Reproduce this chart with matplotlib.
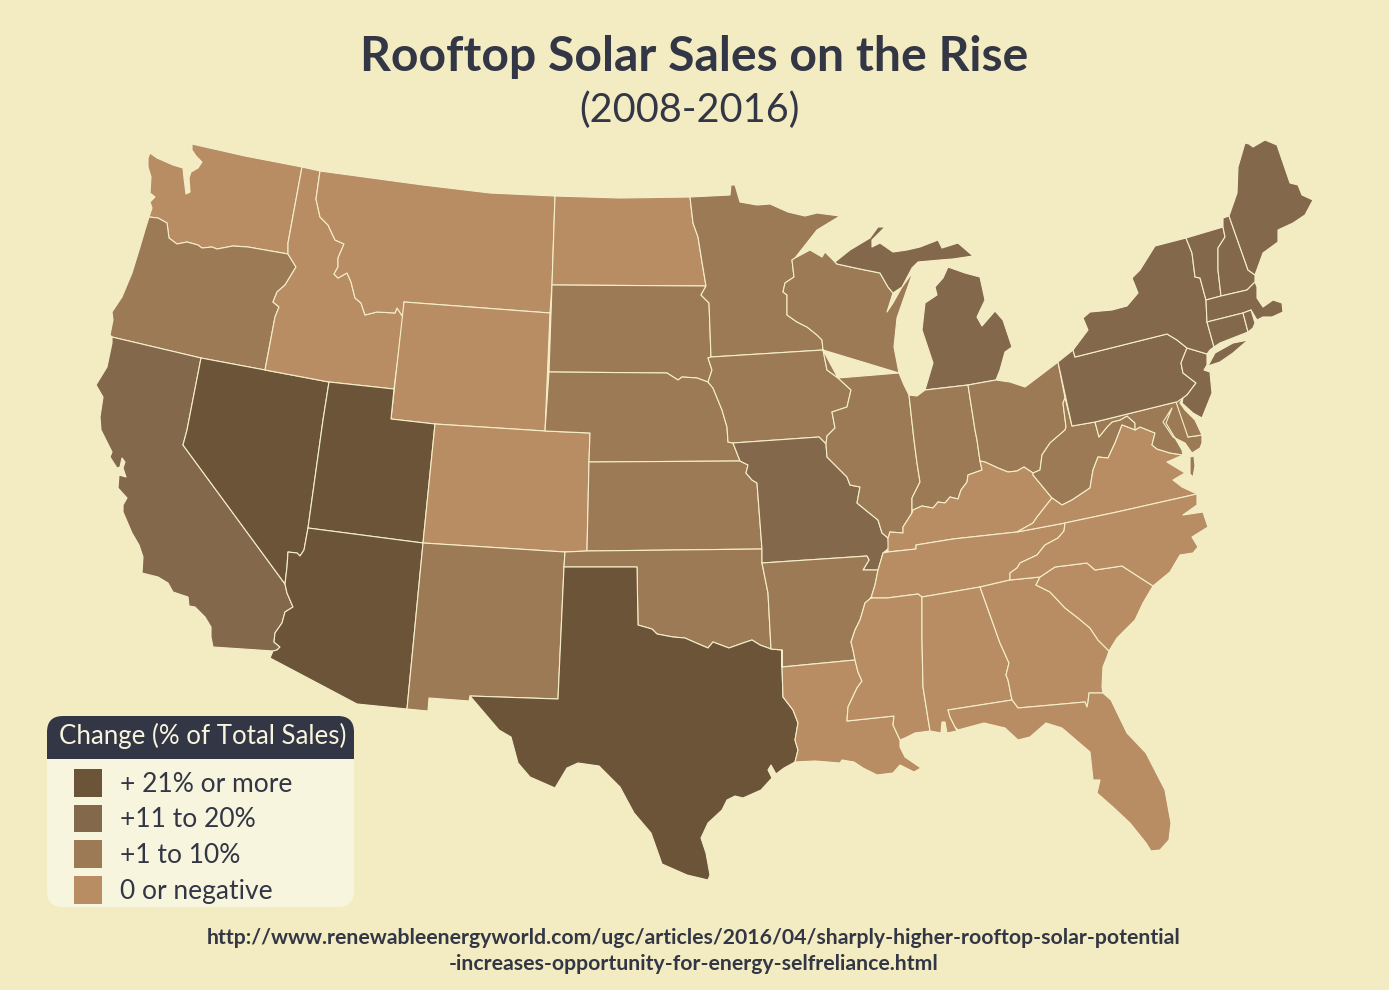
import matplotlib
matplotlib.use("Agg")
from matplotlib import pyplot as plt
from matplotlib.patches import FancyBboxPatch, Rectangle

plt.rcParams['font.family'] = ['Lato', 'DejaVu Sans']

# text and legend
title = "Rooftop Solar Sales on the Rise"
subtitle = "(2008-2016)"
source_lines = ["http://www.renewableenergyworld.com/ugc/articles/2016/04/sharply-higher-rooftop-solar-potential",
                "-increases-opportunity-for-energy-selfreliance.html"]
legend_title = "Change (% of Total Sales)"
legend_labels = ["+ 21% or more", "+11 to 20%", "+1 to 10%", "0 or negative"]
class_colors = ["#6B5438", "#83684B", "#9C7A56", "#B88D63"]

# which class every state falls in, index into legend_labels
state_class = {
    "NV": 0, "UT": 0, "AZ": 0, "TX": 0,
    "CA": 1, "MO": 1, "MI": 1, "MI_lower": 1, "PA": 1, "NY": 1, "LI": 1, "NJ": 1, "CT": 1, "RI": 1,
    "MA": 1, "VT": 1, "NH": 1, "ME": 1,
    "OR": 2, "SD": 2, "NE": 2, "KS": 2, "OK": 2, "NM": 2, "MN": 2, "IA": 2, "AR": 2, "WI": 2,
    "IL": 2, "IN": 2, "OH": 2, "WV": 2, "MD": 2, "DE": 2, "VA_shore": 2,
    "WA": 3, "ID": 3, "MT": 3, "WY": 3, "ND": 3, "CO": 3, "LA": 3, "MS": 3, "AL": 3, "GA": 3,
    "FL": 3, "SC": 3, "NC": 3, "TN": 3, "KY": 3, "VA": 3,
}

# shared borders in map units (y grows downward)
wa_or = [(149,217),(158,218),(167,223),(169,238),(177,244),(187,242),(198,245),(202,248),(212,247),(217,249),(233,246),(248,247),(288,254)]
or_id = [(288,254),(296,267),(285,285),(277,292),(273,302),(279,307),(275,317),(265,370)]
id_mt = [(320,171),(316,199),(320,217),(328,225),(335,240),(344,244),(338,258),(338,267),(334,274),(338,278),(347,273),(351,282),(355,298),(361,303),(365,315),(377,312),(395,313),(397,308),(403,317)]
ca_nv = [(201,358),(187,430),(183,445),(285,584)]
ca_az = [(285,584),(287,593),(293,607),(285,612),(282,623),(275,633),(274,642),(280,647),(277,650),(273,651)]
nv_az = [(304,550),(300,556),(297,553),(288,552),(287,567),(285,584)]
red_river = [(771,649),(760,645),(752,640),(743,643),(729,648),(713,642),(708,648),(694,642),(685,638),(673,637),(657,634),(652,629),(638,625),(637,567)]
tx_east = [(782,650),(782,667),(783,697),(793,710),(798,723),(795,740),(798,750),(795,762)]
nd_mn = [(690,197),(693,223),(698,237),(702,262),(706,286)]
sd_mn = [(706,286),(701,295),(709,303),(711,357)]
sd_ia = [(711,357),(708,358),(712,370),(708,382)]
sd_ne = [(708,382),(697,378),(682,377),(678,380),(667,373),(549,372)]
ne_ia = [(708,382),(713,388),(722,410),(727,427),(728,442),(733,443)]
ks_mo = [(740,461),(748,465),(746,473),(752,480),(757,483),(762,549)]
ok_ar = [(762,563),(768,593),(771,649)]
mn_wi = [(795,258),(792,260),(794,277),(785,283),(783,292),(787,295),(787,315),(797,322),(807,327),(817,335),(822,340),(823,350)]
ia_il = [(826,444),(827,436),(835,428),(832,412),(847,407),(851,390),(838,378)]
ia_wi = [(838,378),(827,370),(823,350)]
wi_mi = [(835,262),(837,264),(860,269),(880,273),(888,287),(893,293)]
il_mo = [(826,444),(827,457),(847,477),(850,485),(860,487),(857,503),(868,512),(878,520),(882,533),(888,538)]
il_ky = [(888,538),(890,532),(903,533),(903,527),(912,513)]
il_in = [(909,395),(914,440),(917,463),(920,482),(912,498),(912,513)]
in_oh = [(968,385),(975,430),(977,440),(980,461)]
in_ky = [(980,461),(982,470),(968,475),(967,482),(961,490),(958,499),(950,497),(945,503),(938,502),(933,508),(922,506),(913,510),(912,513)]
oh_ky = [(1033,473),(1024,467),(1017,471),(1008,472),(998,468),(985,462),(980,461)]
oh_wv = [(1065,398),(1063,403),(1066,427),(1065,430),(1050,443),(1042,455),(1040,470),(1033,473)]
ky_tn = [(888,552),(916,549),(916,545),(953,539),(1017,532)]
ky_va = [(1017,532),(1033,523),(1037,517),(1052,498)]
ky_wv = [(1052,498),(1033,475),(1033,473)]
tn_va = [(1017,532),(1065,523)]
tn_nc = [(1065,523),(1064,531),(1058,538),(1045,545),(1037,555),(1020,563),(1017,568),(1010,573),(1010,580)]
va_nc = [(1065,523),(1117,512),(1197,494)]
va_wv = [(1052,498),(1062,505),(1072,500),(1090,488),(1093,470),(1098,457),(1108,458),(1115,443),(1122,425),(1135,430)]
va_md = [(1135,430),(1140,427),(1155,433),(1152,445),(1157,449),(1170,453),(1183,455)]
wv_md = [(1135,430),(1135,423),(1127,416),(1120,420),(1112,422),(1107,427),(1099,437),(1095,422)]
pa_south = [(1176,402),(1095,422),(1072,426)]
pa_nj = [(1187,348),(1181,363),(1183,373),(1196,383),(1187,395),(1177,402)]
pa_ny = [(1058,362),(1073,350),(1075,357),(1167,334),(1177,340),(1187,348)]
ny_vt = [(1186,238),(1192,253),(1195,277),(1200,278),(1206,300)]
vt_nh = [(1223,227),(1225,237),(1218,248),(1218,270),(1221,296)]
ny_ma_ct = [(1206,300),(1207,322),(1214,347)]
ar_ms = [(871,598),(872,597),(865,603),(863,610),(860,620),(855,630),(851,642),(853,650),(855,660)]
ms_la = [(855,660),(858,672),(862,681),(857,688),(848,707),(847,721),(894,716),(893,725),(900,740)]
ms_al = [(922,597),(922,640),(923,687),(930,731)]
al_ga = [(980,587),(1000,643),(1009,663),(1006,675),(1008,680),(1012,700)]
ga_sc = [(1040,577),(1036,585),(1050,592),(1065,608),(1078,618),(1090,628),(1098,640),(1109,651)]
nc_sc = [(1040,577),(1055,567),(1087,563),(1095,570),(1122,566),(1153,586)]
ga_fl = [(1012,700),(1018,708),(1085,702),(1087,707),(1088,702),(1089,693),(1103,693)]


def ring(*parts):
    points = []
    for part in parts:
        points += part
    return points


# state outlines
outlines = {
    "WA": ring([(150,153),(157,158),(173,165),(183,168),(184,178),(186,194),(190,192),(189,178),(191,172),(198,168),(202,162),(196,156),(192,150),(192,144),(245,156),(302,167),(288,243)],
               wa_or[::-1], [(149,217),(152,208),(150,202),(155,197),(150,193),(151,177),(148,167),(148,158)]),
    "OR": ring(wa_or, or_id, [(201,358),(112,337),(110,335),(113,320),(112,312),(122,297),(132,273),(140,247),(145,230)]),
    "CA": ring([(112,337)], ca_nv, ca_az, [(213,647),(211,637),(211,627),(205,617),(195,607),(189,606),(188,597),(173,592),(168,583),(158,577),(142,573),(143,557),(139,545),(132,533),(123,512),(123,505),(127,498),(118,488),(119,475),(126,477),(123,468),(125,462),(122,458),(120,467),(117,468),(110,457),(112,452),(101,430),(100,417),(103,397),(96,385),(107,367),(112,343)]),
    "NV": ring([(201,358),(265,370),(329,382),(323,420),(308,528)], nv_az, ca_nv[::-1]),
    "ID": ring([(302,167)], id_mt, [(394,389),(329,382)], or_id[::-1], [(288,243)]),
    "MT": ring([(320,171),(423,185),(490,193),(555,196),(552,285),(550,313),(404,302)], id_mt[::-1]),
    "WY": [(404,302),(550,313),(545,431),(435,424),(391,419)],
    "UT": [(329,382),(394,389),(391,419),(435,424),(423,543),(308,528),(323,420)],
    "CO": [(435,424),(545,431),(590,433),(589,462),(587,551),(565,552),(423,543)],
    "AZ": ring([(308,528),(423,543),(407,709),(357,704),(270,658)], ca_az[::-1], nv_az[::-1]),
    "NM": [(423,543),(565,552),(564,567),(558,699),(470,696),(469,701),(429,698),(428,711),(407,709)],
    "ND": ring([(555,196),(620,198)], nd_mn, [(552,285)]),
    "SD": ring([(552,285)], sd_mn, sd_ia, sd_ne),
    "NE": ring(sd_ne[::-1], ne_ia, [(740,461),(589,462),(590,433),(545,431)]),
    "KS": ring([(589,462)], ks_mo, [(587,551)]),
    "OK": ring([(587,551),(762,549)], ok_ar, red_river, [(564,567),(565,552)]),
    "TX": ring([(564,567)], red_river[::-1], tx_east, [(784,768),(776,774),(771,765),(768,770),(772,778),(761,790),(743,798),(735,796),(727,800),(722,810),(708,823),(701,838),(706,853),(710,875),(708,880),(687,875),(662,864),(651,833),(634,813),(620,787),(599,766),(578,763),(567,768),(555,788),(530,777),(518,763),(511,737),(499,730),(470,696),(558,699)]),
    "MN": ring([(730,195),(731,185),(735,185),(740,202),(757,205),(770,204),(788,212),(805,216),(817,213),(840,216),(817,230)], mn_wi, [(711,357)], sd_mn[::-1], nd_mn[::-1]),
    "IA": ring(sd_ia, ne_ia, [(819,437)], ia_il, ia_wi),
    "MO": ring([(733,443),(819,437)], il_mo, [(889,548),(883,553),(881,560),(878,570),(863,570),(869,560),(867,556),(762,563),(762,549)], ks_mo[::-1]),
    "AR": ring([(762,563),(867,556),(869,560),(863,570),(878,570),(875,585)], ar_ms, [(782,667),(782,650)], ok_ar[::-1]),
    "LA": ring([(782,667)], ms_la, [(900,747),(905,757),(921,768),(914,772),(900,765),(893,773),(877,775),(863,768),(854,762),(842,760),(840,763),(815,761)], tx_east[::-1]),
    "WI": ring(mn_wi[::-1], [(810,250),(822,257),(825,252)], wi_mi, [(887,312),(893,303),(902,287),(913,272),(905,295),(897,318),(894,347),(899,373)], ia_wi[::-1]),
    "MI": ring(wi_mi, [(902,287),(912,268),(918,262),(940,260),(953,259),(973,256),(958,243),(942,248),(938,240),(920,247),(907,250),(893,252),(880,243),(872,247),(872,240),(885,227),(878,227),(870,238),(850,250)]),
    "MI_lower": [(948,267),(965,273),(980,277),(985,300),(977,317),(982,326),(995,311),(1003,320),(1012,347),(1005,352),(1000,370),(996,380),(968,385),(925,390),(933,363),(922,330),(925,303),(937,295),(935,287),(943,278)],
    "IL": ring([(838,378),(899,373),(904,385)], il_in, il_ky[::-1], il_mo[::-1], ia_il),
    "IN": ring([(909,395),(917,396),(925,390)], in_oh, in_ky, il_in[::-1]),
    "OH": ring([(968,385),(996,380),(1010,382),(1025,387),(1037,378),(1058,362)], oh_wv, oh_ky, in_oh[::-1]),
    "KY": ring(in_ky[::-1], oh_ky[::-1], ky_wv[::-1], ky_va[::-1], ky_tn[::-1], [(888,538)], il_ky),
    "TN": ring([(871,598),(875,585),(878,570),(881,560),(883,553)], ky_tn, tn_va, tn_nc, [(980,587),(922,597),(918,594),(887,598)]),
    "WV": ring([(1065,398),(1072,426)], pa_south[::-1][1:2], wv_md[::-1], va_wv[::-1], ky_wv, oh_wv[::-1]),
    "VA": ring(ky_va, va_wv, va_md, [(1167,462),(1185,473),(1173,480),(1182,487)], va_nc[::-1], tn_va[::-1]),
    "MD": ring(wv_md, [(1176,402),(1180,403),(1188,437),(1202,435),(1202,443),(1200,448),(1192,453),(1185,443),(1173,437),(1163,422),(1172,408),(1166,423),(1175,438),(1182,450)], va_md[::-1]),
    "VA_shore": [(1190,457),(1194,456),(1195,466),(1193,477),(1190,474)],
    "DE": [(1176,402),(1178,398),(1183,397),(1180,403),(1185,410),(1195,420),(1202,435),(1188,437)],
    "PA": ring(pa_ny, pa_nj, pa_south),
    "NJ": ring([(1187,348),(1207,354),(1207,365),(1204,370),(1210,372),(1212,393),(1202,418),(1193,413),(1182,403),(1183,398),(1187,395)], [(1196,383),(1183,373),(1181,363)]),
    "NY": ring(pa_ny[1:], [(1207,354),(1210,350),(1214,347)], ny_ma_ct[::-1], ny_vt[::-1], [(1155,246),(1140,270),(1132,278),(1138,293),(1127,306),(1112,310),(1090,312),(1083,318),(1088,330)]),
    "LI": [(1208,366),(1215,353),(1233,343),(1248,340),(1233,353),(1220,362)],
    "VT": ring([(1186,238)], vt_nh, [(1206,300)], ny_vt[::-1]),
    "NH": ring([(1223,218),(1229,216),(1248,270),(1255,275),(1255,282),(1247,290)], vt_nh[::-1]),
    "ME": [(1229,216),(1237,193),(1238,167),(1245,143),(1249,144),(1253,147),(1265,140),(1277,145),(1290,183),(1298,185),(1302,195),(1313,200),(1305,215),(1293,223),(1278,230),(1278,242),(1263,253),(1255,275),(1248,270)],
    "MA": [(1206,300),(1221,296),(1247,290),(1255,282),(1257,287),(1257,298),(1263,307),(1273,300),(1282,303),(1283,312),(1272,317),(1263,317),(1257,320),(1251,310),(1243,313),(1207,322)],
    "CT": [(1207,322),(1243,313),(1248,332),(1220,343),(1214,347)],
    "RI": [(1243,313),(1251,310),(1255,323),(1253,328),(1248,332)],
    "MS": ring([(871,598),(887,598),(918,594)], ms_al, [(915,733),(905,738)], ms_la[::-1], ar_ms[::-1]),
    "AL": ring(ms_al[::-1], [(980,587)], al_ga, [(948,710),(950,717),(955,727),(957,731),(947,733),(945,722),(942,722),(941,733)]),
    "GA": ring([(980,587),(1010,580)], [(1040,577)], ga_sc[1:], [(1107,657),(1103,667),(1102,687)], ga_fl[::-1], al_ga[::-1]),
    "SC": ring(nc_sc, [(1143,603),(1135,620),(1117,638)], ga_sc[::-1]),
    "NC": ring(va_nc, [(1197,505),(1183,515),(1203,512),(1208,527),(1192,537),(1198,547),(1193,553),(1180,555),(1170,572)], nc_sc[::-1], [(1010,580)], tn_nc[::-1]),
    "FL": ring([(948,710)], ga_fl, [(1111,700),(1127,733),(1146,753),(1165,790),(1171,823),(1169,840),(1160,850),(1151,851),(1146,843),(1130,823),(1114,808),(1097,793),(1100,780),(1093,780),(1090,752),(1062,728),(1046,723),(1030,737),(1018,740),(1005,728),(984,723),(958,730),(955,727),(950,717)]),
}

background = "#F3ECC2"
ink = "#333644"

fig = plt.figure(figsize=(13.89, 9.90), dpi=100, facecolor=background)
ax = fig.add_axes([0, 0, 1, 1])
ax.set_xlim(0, 1389)
ax.set_ylim(990, 0)
ax.axis("off")

# the map
for state, points in outlines.items():
    xs = [p[0] for p in points]
    ys = [p[1] for p in points]
    ax.fill(xs, ys, facecolor=class_colors[state_class[state]], edgecolor="#F5EFC9", linewidth=0.8, joinstyle="round")

ax.text(694, 57, title, ha="center", va="center", fontsize=34.7, fontweight="bold", color=ink)
ax.text(689, 110, subtitle, ha="center", va="center", fontsize=28.5, color=ink)

# legend box, header is the same rounded box clipped to its top part
box = FancyBboxPatch((47, 716), 307, 191, boxstyle="round,pad=0,rounding_size=16", facecolor="#F8F5DF", edgecolor="none", zorder=3)
ax.add_patch(box)
head = FancyBboxPatch((47, 716), 307, 191, boxstyle="round,pad=0,rounding_size=16", facecolor=ink, edgecolor="none", zorder=4)
ax.add_patch(head)
head.set_clip_path(Rectangle((47, 716), 307, 43, transform=ax.transData))
ax.text(203, 736, legend_title, ha="center", va="center", fontsize=18.6, color="#F8F5DF", zorder=5)

for i, label in enumerate(legend_labels):
    top = 769 + i * 35.7
    ax.add_patch(Rectangle((74, top), 28, 27.5, facecolor=class_colors[i], edgecolor="none", zorder=5))
    ax.text(120, top + 15, label, ha="left", va="center", fontsize=19, color=ink, zorder=5)

ax.text(694, 938, source_lines[0], ha="center", va="center", fontsize=15.3, fontweight="bold", color=ink)
ax.text(694, 964, source_lines[1], ha="center", va="center", fontsize=15.3, fontweight="bold", color=ink)

fig.savefig("out.png", dpi=100, facecolor=background)
